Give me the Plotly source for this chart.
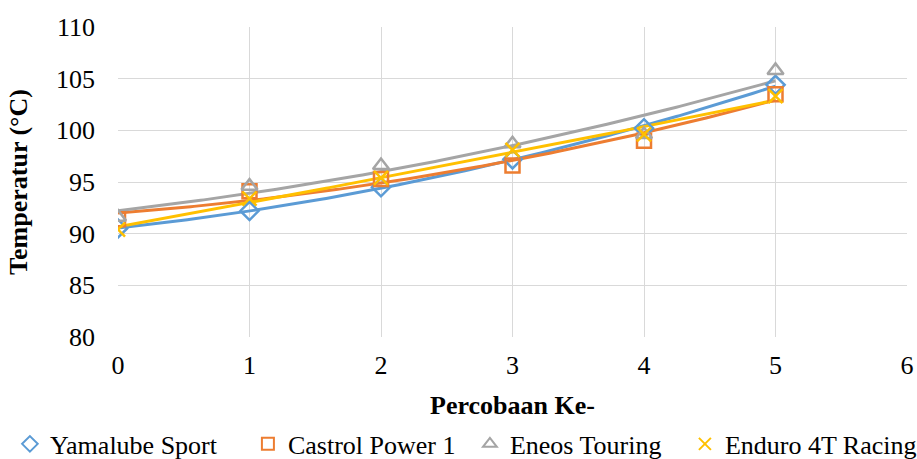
import numpy as np
import plotly.graph_objects as go

x_vals = [0, 1, 2, 3, 4, 5]
yamalube = [90.5, 92.2, 94.5, 97.2, 100.2, 104.4]
castrol = [91.4, 94.1, 95.3, 96.6, 99.0, 103.5]
eneos = [91.6, 94.6, 96.6, 98.7, 99.6, 105.8]
enduro = [90.4, 93.4, 95.4, 98.1, 99.6, 103.3]

names = ["Yamalube Sport", "Castrol Power 1", "Eneos Touring", "Enduro 4T Racing"]
series = [yamalube, castrol, eneos, enduro]
colors = ["#5B9BD5", "#ED7D31", "#A5A5A5", "#FFC000"]
symbols = ["diamond-open", "square-open", "triangle-up-open", "x-thin-open"]
legend_widths = [193, 177, 170, 188]

FONT = "Times New Roman"
FS = 26
fig = go.Figure()

xs = np.linspace(min(x_vals), max(x_vals), 200)
for name, ys, c in zip(names, series, colors):
    coef = np.polyfit(x_vals, ys, 2)
    fig.add_trace(go.Scatter(x=xs, y=np.polyval(coef, xs), mode="lines",
                             line=dict(color=c, width=3), showlegend=False, hoverinfo="skip"))

for name, ys, c, s, lw in zip(names, series, colors, symbols, legend_widths):
    fig.add_trace(go.Scatter(x=x_vals, y=ys, mode="markers", name=name, legendwidth=lw,
                             marker=dict(symbol=s, size=14, color=c,
                                         line=dict(color=c, width=2.5))))

fig.update_layout(
    width=917, height=459,
    margin=dict(l=118, r=10, t=27, b=122, autoexpand=False),
    paper_bgcolor="white", plot_bgcolor="white",
    font=dict(family=FONT, size=FS, color="black"),
    xaxis=dict(range=[0, 6], dtick=1, showgrid=True, gridcolor="#D9D9D9", gridwidth=1.3,
               zeroline=False, showline=False, ticks="", ticklabelstandoff=10, automargin=False,
               tickfont=dict(family=FONT, size=FS, color="black"),
               title=dict(text="<b>Percobaan Ke-</b>", font=dict(family=FONT, size=FS), standoff=16)),
    yaxis=dict(range=[80, 110], dtick=5, showgrid=True, gridcolor="#D9D9D9", gridwidth=1.3,
               zeroline=False, showline=False, ticks="", ticklabelstandoff=22, automargin=False,
               tickfont=dict(family=FONT, size=FS, color="black"),
               title=dict(text="<b>Temperatur (°C)</b>", font=dict(family=FONT, size=FS), standoff=20)),
    legend=dict(orientation="h", x=-0.137, xanchor="left", y=-0.345, yanchor="middle",
                font=dict(family=FONT, size=FS, color="black"), itemsizing="constant",
                tracegroupgap=0, itemwidth=30),
)

fig.write_html("out.html")
